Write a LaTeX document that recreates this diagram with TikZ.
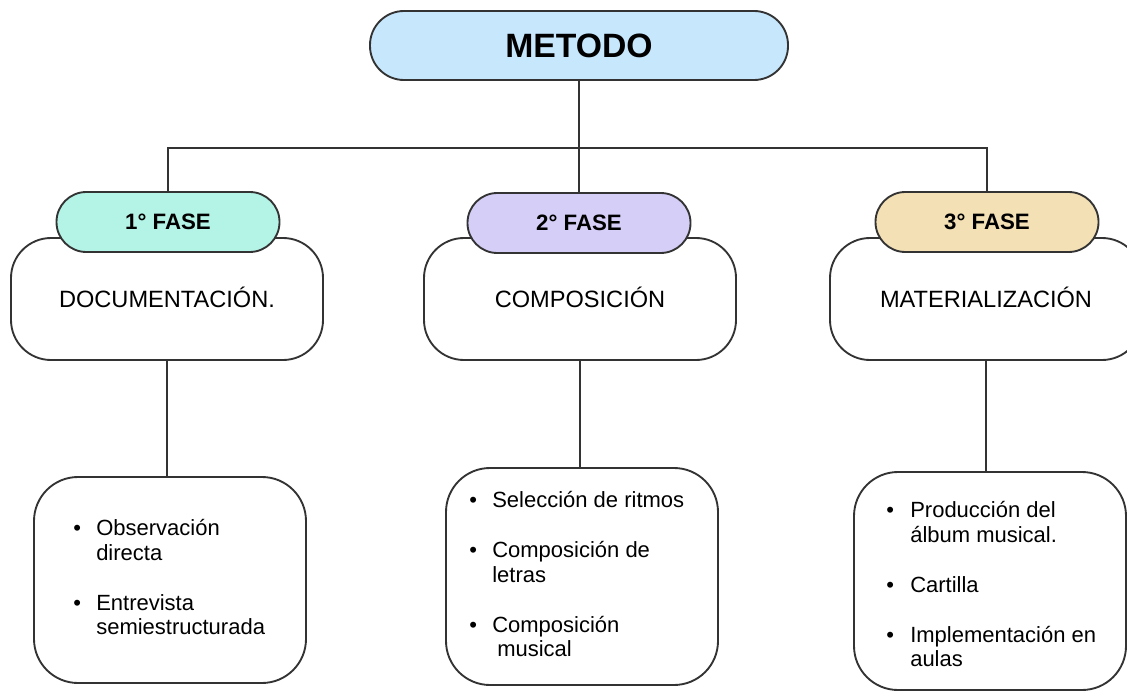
\documentclass[tikz,border=0pt]{standalone}
\usepackage{fontspec}
\setmainfont{Liberation Sans}
\definecolor{linec}{HTML}{333333}
\definecolor{metodoc}{HTML}{C6E7FC}
\definecolor{faseonec}{HTML}{B4F4E7}
\definecolor{fasetwoc}{HTML}{D5CFF8}
\definecolor{fasethreec}{HTML}{F3E0B5}
\tikzset{
  conn/.style={draw=linec, line width=1.4pt},
  pill/.style={draw=linec, line width=1.4pt, rectangle, inner sep=0pt},
  metodobox/.style={pill, fill=metodoc, minimum width=313.5pt, minimum height=51.75pt, rounded corners=25.5pt, text height=17.5pt, text depth=0pt, font=\bfseries\fontsize{25.3}{30}\selectfont},
  fasebox/.style={pill, minimum width=167.25pt, minimum height=45pt, rounded corners=22.4pt, text height=11.5pt, text depth=0pt, font=\bfseries\fontsize{16.7}{20}\selectfont},
  mainbox/.style={pill, fill=white, minimum width=234pt, minimum height=91.5pt, rounded corners=30pt, text height=12.2pt, text depth=0pt, font=\fontsize{17.7}{21}\selectfont},
  listbox/.style={pill, fill=white, rounded corners=33pt, minimum width=204pt},
  itemtext/.style={anchor=base west, inner sep=0pt, font=\fontsize{16.5}{19}\selectfont},
}
\begin{document}
\begin{tikzpicture}[x=0.75pt,y=-0.75pt]
\useasboundingbox (0,0) rectangle (1127,692);
\clip (0,0) rectangle (1127,692);

% main phase boxes
\node[mainbox] (main1) at (167,299) {DOCUMENTACIÓN.};
\node[mainbox] (main2) at (580,299) {COMPOSICIÓN};
\node[mainbox] (main3) at (986,299) {MATERIALIZACIÓN};

% phase pills
\node[fasebox, fill=faseonec] (fase1) at (168,222) {1° FASE};
\node[fasebox, fill=fasetwoc] (fase2) at (579,223) {2° FASE};
\node[fasebox, fill=fasethreec] (fase3) at (987,222) {3° FASE};

% top node
\node[metodobox] (metodo) at (579,45.5) {METODO};

% connectors
\coordinate (hub) at (579,148);
\draw[conn] (metodo.south) -- (hub);
\draw[conn] (fase1.north) |- (hub) -| (fase3.north);
\draw[conn] (hub) -- (fase2.north);

% list boxes
\node[listbox, minimum height=154.5pt] (list1) at (170,580) {};
\node[listbox, minimum height=162.75pt] (list2) at (582,576.5) {};
\node[listbox, minimum height=163.5pt] (list3) at (990,581) {};

\draw[conn] (main1.south) -- (main1.south |- list1.north);
\draw[conn] (main2.south) -- (main2.south |- list2.north);
\draw[conn] (main3.south) -- (main3.south |- list3.north);

% list 1
\node[itemtext] (b1a) at (73,535.5) {•};
\node[itemtext] (t1a) at (96,535.5) {Observación};
\node[itemtext] (t1b) at (96,560) {directa};
\node[itemtext] (b1b) at (73,610.5) {•};
\node[itemtext] (t1c) at (96,610.5) {Entrevista};
\node[itemtext] (t1d) at (96,634.5) {semiestructurada};

% list 2
\node[itemtext] (b2a) at (469,507.5) {•};
\node[itemtext] (t2a) at (492,507.5) {Selección de ritmos};
\node[itemtext] (b2b) at (469,557.5) {•};
\node[itemtext] (t2b) at (492,557.5) {Composición de};
\node[itemtext] (t2c) at (492,582.5) {letras};
\node[itemtext] (b2c) at (469,632.5) {•};
\node[itemtext] (t2d) at (492,632.5) {Composición};
\node[itemtext] (t2e) at (497,656.5) {musical};

% list 3
\node[itemtext] (b3a) at (886,517) {•};
\node[itemtext] (t3a) at (910,517) {Producción del};
\node[itemtext] (t3b) at (910,542) {álbum musical.};
\node[itemtext] (b3b) at (886,592.5) {•};
\node[itemtext] (t3c) at (910,592.5) {Cartilla};
\node[itemtext] (b3c) at (886,642.5) {•};
\node[itemtext] (t3d) at (910,642.5) {Implementación en};
\node[itemtext] (t3e) at (910,666.5) {aulas};
\end{tikzpicture}
\end{document}
